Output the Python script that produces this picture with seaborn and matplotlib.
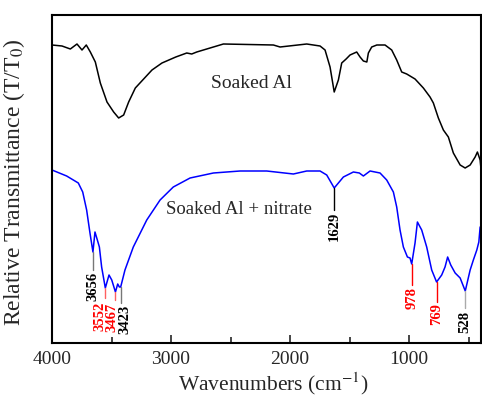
import numpy as np
import pandas as pd
import matplotlib
matplotlib.use("Agg")
import matplotlib.pyplot as plt
from matplotlib.ticker import MultipleLocator
import seaborn as sns

# spectra (relative transmittance, arbitrary units)
wn_al = [4000, 3916, 3846, 3790, 3748, 3712, 3678, 3636, 3594, 3538, 3482, 3440, 3398,
         3356, 3300, 3230, 3160, 3076, 2960, 2868, 2826, 2784, 2560, 2140, 2084, 1860,
         1748, 1706, 1664, 1629, 1594, 1566, 1529, 1496, 1440, 1412, 1384, 1355, 1342,
         1314, 1271, 1202, 1146, 1104, 1062, 1020, 950, 880, 824, 796, 754, 712, 670,
         628, 571, 529, 487, 445, 426, 403, 395]
t_al = [298, 297, 294, 299, 293, 298, 291, 281, 260, 241, 231, 225, 228,
        241, 255, 264, 273, 280, 286, 290, 289, 291, 299, 298, 296, 299,
        297, 293, 276, 251, 263, 280, 284, 288, 291, 286, 282, 281, 290,
        296, 298, 298, 293, 283, 271, 269, 264, 255, 246, 240, 225, 213, 206,
        190, 178, 175, 178, 186, 191, 183, 173]

wn_nit = [4000, 3877, 3779, 3742, 3709, 3681, 3656, 3639, 3619, 3602, 3583, 3552, 3521,
          3498, 3467, 3448, 3434, 3423, 3387, 3317, 3204, 3092, 2981, 2840, 2644, 2420,
          2196, 1972, 1860, 1748, 1692, 1658, 1629, 1594, 1552, 1468, 1418, 1384, 1328,
          1244, 1188, 1132, 1104, 1076, 1048, 1014, 992, 978, 950, 930, 894, 852, 810,
          769, 726, 698, 676, 650, 613, 571, 528, 487, 460, 431, 414, 403, 398]
t_nit = [173, 167, 160, 151, 133, 110, 91, 111, 103, 96, 76, 55, 68,
         63, 51, 59, 56, 56, 73, 96, 123, 143, 156, 165, 170, 172,
         172, 169, 172, 172, 168, 161, 155, 160, 166, 171, 170, 167, 172,
         170, 163, 151, 136, 113, 96, 86, 85, 79, 100, 121, 113, 96, 73,
         61, 68, 76, 86, 78, 70, 65, 52, 73, 83, 93, 101, 116, 116]

peak_wn = [3656, 3552, 3467, 3423, 1629, 978, 769, 528]
peak_txt = ["3656", "3552", "3467", "3423", "1629", "978", "769", "528"]

df = pd.concat([
    pd.DataFrame({"wn": wn_al, "T": t_al, "sample": "Soaked Al"}),
    pd.DataFrame({"wn": wn_nit, "T": t_nit, "sample": "Soaked Al + nitrate"}),
])

sns.set_style("white")
plt.rcParams["font.family"] = ["Liberation Serif", "DejaVu Serif"]
plt.rcParams["mathtext.fontset"] = "stix"

fig = plt.figure(figsize=(4.82, 4.05), dpi=100)
ax = fig.add_axes([52 / 482, 62 / 405, 428.5 / 482, 328 / 405])
sns.lineplot(data=df, x="wn", y="T", hue="sample", palette=["black", "#0000ff"],
             linewidth=1.1, legend=False, ax=ax, sort=False)

ax.set_xlim(4000, 400)
ax.set_ylim(0, 328)
ax.xaxis.set_major_locator(MultipleLocator(1000))
ax.xaxis.set_minor_locator(MultipleLocator(500))
ax.tick_params(axis="x", which="both", direction="in", bottom=True, top=False,
               labelsize=14, pad=6, width=1.2)
ax.tick_params(axis="x", which="major", length=6)
ax.tick_params(axis="x", which="minor", length=4)
ax.set_yticks([])
for s in ax.spines.values():
    s.set_linewidth(1.5)
    s.set_color("black")

ax.set_xlabel("Wavenumbers (cm$^{-1}$)", fontsize=15.5)
ax.set_ylabel("Relative Transmittance (T/T$_0$)", fontsize=17)
ax.xaxis.set_label_coords(0.516, -0.085)
ax.yaxis.set_label_coords(-0.058, 0.49)

ax.text(2328, 260, "Soaked Al", fontsize=14, ha="center", va="center")
ax.text(2429, 134, "Soaked Al + nitrate", fontsize=13.5, ha="center", va="center")

# peak markers: line end, text x, text top, line colour, text colour
marks = {
    "3656": (73, 3656, 71, "#777777", "black"),
    "3552": (45, 3597, 41, "#ff6060", "red"),
    "3467": (43, 3498, 40, "#ff6060", "red"),
    "3423": (40, 3387, 38, "#777777", "black"),
    "1629": (133, 1629, 131, "black", "black"),
    "978": (58, 978, 56, "red", "red"),
    "769": (41, 769, 40, "red", "red"),
    "528": (35, 528, 32, "#aaaaaa", "black"),
}
for w, lab in zip(peak_wn, peak_txt):
    y_end, xt, yt, lc, tc = marks[lab]
    y0 = np.interp(w, wn_nit[::-1], t_nit[::-1])
    ax.plot([w, w], [y0, y_end], color=lc, lw=1)
    ax.text(xt, yt, lab, rotation=90, ha="center", va="top", fontsize=10.5,
            fontweight="bold", color=tc)

fig.savefig("out.png", dpi=100)
